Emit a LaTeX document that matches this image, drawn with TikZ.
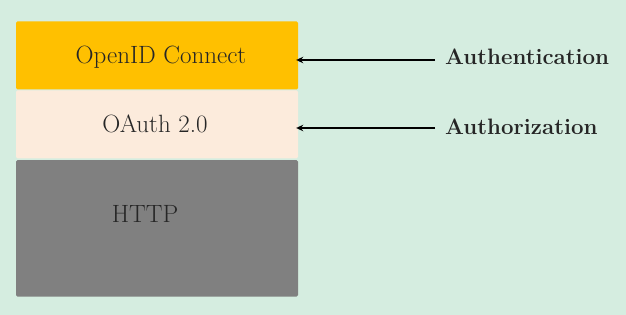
\documentclass[tikz,border=0pt]{standalone}
\usepackage{tikz}
\usetikzlibrary{arrows.meta,positioning,calc}
\usepackage{xcolor}
\definecolor{bgmint}{HTML}{D5EDE0}
\definecolor{oidcgold}{HTML}{FFC000}
\definecolor{oauthpeach}{HTML}{FCEBDC}
\definecolor{httpgray}{HTML}{808080}
\definecolor{inkdark}{HTML}{262626}

\begin{document}
\begin{tikzpicture}[x=1pt, y=-1pt,
  layer/.style={rectangle, rounded corners=1.5pt, minimum width=282pt, inner sep=0pt},
  proto/.style={font=\fontsize{25}{29}\selectfont, text=inkdark, inner sep=0pt},
  role/.style={font=\fontsize{22.3}{26}\selectfont\bfseries, text=inkdark, anchor=west, inner xsep=10pt, inner ysep=0pt},
  arr/.style={-{Stealth[length=7pt, width=6.5pt]}, line width=1.4pt, shorten >=-2pt}
]
  % background
  \fill[bgmint] (0,0) rectangle (626,315);
  \useasboundingbox (0,0) rectangle (626,315);
  % protocol stack
  \node[layer, fill=oidcgold, minimum height=68pt] (oidc) at (157,55.5) {};
  \node[layer, fill=oauthpeach, minimum height=68pt] (oauth) at (157,124.3) {};
  \node[layer, fill=httpgray, minimum height=136.5pt] (http) at (157,228.3) {};
  \node[proto] (oidctxt) at (161,57) {OpenID Connect};
  \node[proto] (oauthtxt) at (155,124) {OAuth 2.0};
  \node[proto] (httptxt) at (145,214) {HTTP};
  % roles
  \node[role] (authn) at (435,57) {Authentication};
  \node[role] (authz) at (435,127) {Authorization};
  \draw[arr] ([yshift=-3pt]authn.west) -- ([yshift=-3pt]oidc.east |- authn.west);
  \draw[arr] ([yshift=-1pt]authz.west) -- ([yshift=-1pt]oauth.east |- authz.west);
\end{tikzpicture}
\end{document}
